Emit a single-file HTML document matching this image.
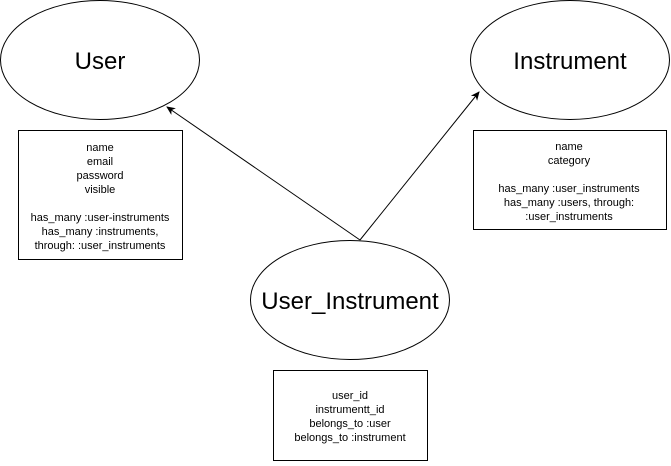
<!DOCTYPE html>
<html><head><style>
body{margin:0;background:#fff;}
svg text{font-family:"Liberation Sans",Arial,sans-serif;fill:#000;}
</style></head><body>
<svg width="671" height="461" viewBox="0 0 671 461" xmlns="http://www.w3.org/2000/svg">
<defs><marker id="a" markerWidth="10" markerHeight="10" refX="8" refY="4" orient="auto" markerUnits="userSpaceOnUse"><path d="M0,0 L9,4 L0,8 L2.5,4 Z" fill="#000"/></marker></defs>
<g fill="#fff" stroke="#000" stroke-width="1">
<ellipse cx="100" cy="60" rx="99.5" ry="59.5"/>
<ellipse cx="570" cy="60" rx="99.5" ry="59.5"/>
<ellipse cx="350" cy="300" rx="99.5" ry="59.5"/>
<rect x="18.5" y="130.5" width="164" height="129"/>
<rect x="473.5" y="130.5" width="193" height="99"/>
<rect x="273.5" y="370.5" width="154" height="90"/>
</g>
<line x1="360" y1="240" x2="167" y2="107" stroke="#000" marker-end="url(#a)"/>
<line x1="360" y1="240" x2="479" y2="92" stroke="#000" marker-end="url(#a)"/>
<g font-size="24" text-anchor="middle">
<text x="100" y="69">User</text>
<text x="570" y="69">Instrument</text>
<text x="350" y="309">User_Instrument</text>
</g>
<g font-size="11" text-anchor="middle">
<text x="100" y="151">name</text>
<text x="100" y="165">email</text>
<text x="100" y="179">password</text>
<text x="100" y="193">visible</text>
<text x="100" y="221">has_many :user-instruments</text>
<text x="100" y="235">has_many :instruments,</text>
<text x="100" y="249">through: :user_instruments</text>
<text x="569" y="150">name</text>
<text x="569" y="164">category</text>
<text x="569" y="192">has_many :user_instruments</text>
<text x="569" y="206">has_many :users, through:</text>
<text x="569" y="220">:user_instruments</text>
<text x="350" y="399">user_id</text>
<text x="350" y="413">instrumentt_id</text>
<text x="350" y="427">belongs_to :user</text>
<text x="350" y="441">belongs_to :instrument</text>
</g>
</svg>
</body></html>
